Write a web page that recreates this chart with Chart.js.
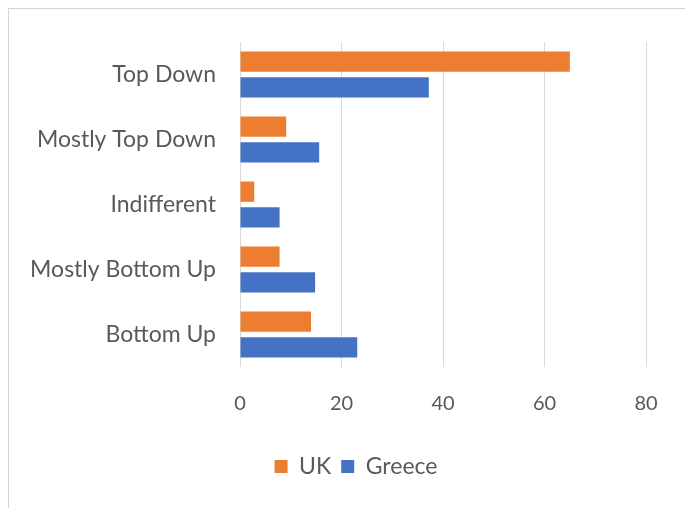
<!DOCTYPE html>
<html>
<head>
<meta charset="utf-8">
<script src="https://cdn.jsdelivr.net/npm/chart.js@4.4.1/dist/chart.umd.min.js"></script>
<style>
  html, body { margin: 0; padding: 0; background: #ffffff; }
  #wrap { position: relative; width: 685px; height: 508px; overflow: hidden; }
  #frame { position: absolute; left: 8px; top: 8px; width: 690px; height: 520px;
           border: 1px solid #d4d4d4; box-shadow: 1px 1px 2px rgba(0,0,0,0.08); box-sizing: border-box; }
  #c { position: absolute; left: 0; top: 0; }
</style>
</head>
<body>
<div id="wrap">
  <div id="frame"></div>
  <canvas id="c" width="685" height="508"></canvas>
</div>
<script>
// Approach preferences by survey group
const categories = ['Top Down', 'Mostly Top Down', 'Indifferent', 'Mostly Bottom Up', 'Bottom Up'];
const ukValues = [65, 9.1, 2.8, 7.8, 14];
const greeceValues = [37.2, 15.6, 7.8, 14.8, 23.1];
const xTicks = [0, 20, 40, 60, 80];

const textColor = '#595959';
const fontFamily = 'Lato, "Open Sans", sans-serif';

// Centre the legend under the whole frame rather than the padded layout box
const legendShift = {
  id: 'legendShift',
  afterLayout(chart) {
    const l = chart.legend;
    if (l) { l.left += 66; l.right += 0; }
  }
};

new Chart(document.getElementById('c'), {
  type: 'bar',
  data: {
    labels: categories,
    datasets: [
      { label: 'UK', data: ukValues, backgroundColor: '#ED7D31', categoryPercentage: 0.79, barPercentage: 0.79 },
      { label: 'Greece', data: greeceValues, backgroundColor: '#4472C4', categoryPercentage: 0.79, barPercentage: 0.79 }
    ]
  },
  options: {
    indexAxis: 'y',
    responsive: false,
    animation: false,
    layout: { padding: { left: 0, right: 39, top: 42, bottom: 20 } },
    scales: {
      x: {
        min: 0, max: 80,
        afterBuildTicks: (s) => { s.ticks = xTicks.map(v => ({ value: v })); },
        afterFit: (s) => { s.height = 78; },
        grid: { color: '#d9d9d9', drawTicks: false },
        border: { display: false },
        ticks: { color: textColor, padding: 25, font: { family: fontFamily, size: 20 } }
      },
      y: {
        afterFit: (s) => { s.width = 240; },
        grid: { display: false },
        border: { display: false },
        ticks: { color: textColor, padding: 16, font: { family: fontFamily, size: 23 } }
      }
    },
    plugins: {
      legend: {
        position: 'bottom',
        labels: { color: textColor, boxWidth: 13, boxHeight: 13, padding: 10, font: { family: fontFamily, size: 23 } }
      },
      tooltip: { enabled: false }
    }
  },
  plugins: [legendShift]
});
</script>
</body>
</html>
